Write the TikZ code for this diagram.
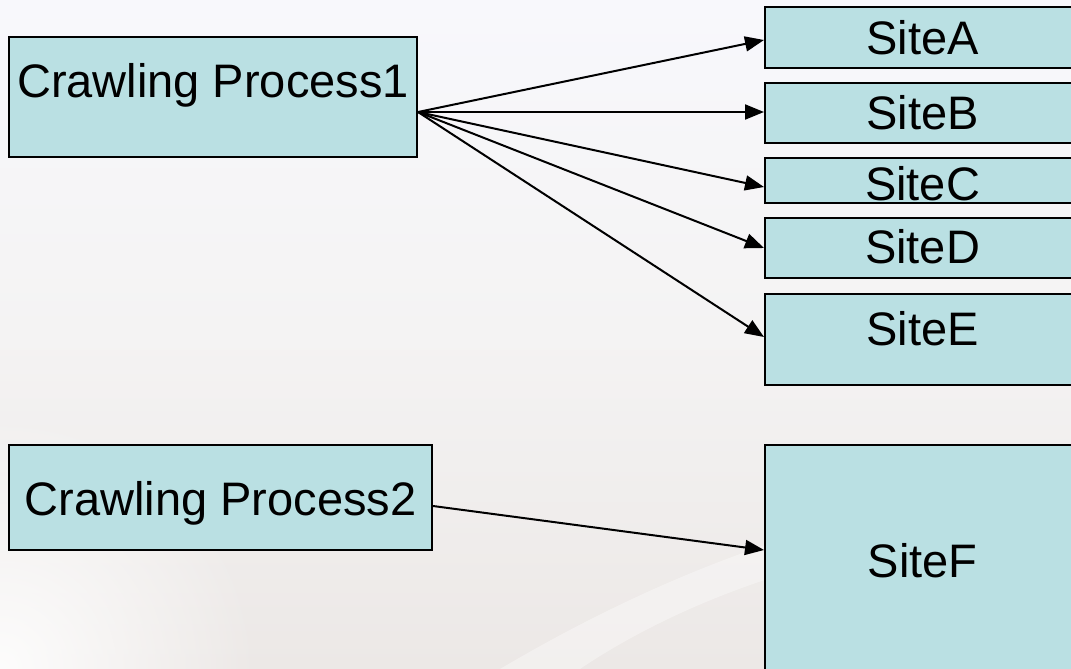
\documentclass[tikz,border=0pt]{standalone}
\usepackage{fontspec}
\setmainfont{Liberation Sans}
\usetikzlibrary{arrows.meta,fadings}
\definecolor{boxfill}{RGB}{186,224,227}
\definecolor{bgtop}{RGB}{248,248,252}
\definecolor{bgmid}{RGB}{244,243,243}
\definecolor{bgbot}{RGB}{236,232,230}
\tikzfading[name=softround, inner color=transparent!0, outer color=transparent!100]
\tikzset{
  box/.style={draw=black, line width=2pt, fill=boxfill, inner sep=0pt,
    text height=0pt, text depth=0pt, font=\fontsize{47pt}{50pt}\selectfont},
  link/.style={line width=2pt, -{Triangle[length=19pt,width=15pt]}},
}
\begin{document}
\begin{tikzpicture}[x=1pt,y=-1pt]
\useasboundingbox (0,0) rectangle (1071,669);
\clip (0,0) rectangle (1071,669);
\shade[top color=bgtop, bottom color=bgbot, middle color=bgmid] (0,0) rectangle (1071,669);
\fill[white, opacity=0.9, path fading=softround] (-260,409) rectangle (260,929);
\fill[white, opacity=0.35] (500,669) .. controls (600,610) and (690,570) .. (780,540)
  -- (780,575) .. controls (700,600) and (630,635) .. (580,669) -- cycle;
% nodes
\node[box, minimum width=408pt, minimum height=120pt] (cp1) at (213,97) {Crawling Process1};
\node[box, minimum width=423pt, minimum height=105pt] (cp2) at (220.5,497.5) {\raisebox{-17.5pt}{Crawling Process2}};
\node[box, minimum width=315pt, minimum height=61pt] (sa) at (922.5,37.5) {\raisebox{-17.5pt}{SiteA}};
\node[box, minimum width=315pt, minimum height=60pt] (sb) at (922.5,113) {\raisebox{-17pt}{SiteB}};
\node[box, minimum width=315pt, minimum height=45pt] (sc) at (922.5,180.5) {\raisebox{-19.5pt}{SiteC}};
\node[box, minimum width=315pt, minimum height=60pt] (sd) at (922.5,248) {\raisebox{-15.5pt}{SiteD}};
\node[box, minimum width=315pt, minimum height=91pt] (se) at (922.5,339) {\raisebox{-6.5pt}{SiteE}};
\node[box, minimum width=315pt, minimum height=232pt] (sf) at (922.5,561) {\raisebox{-16.5pt}{SiteF}};
% connector ends
\coordinate (o1) at ([yshift=-15pt]cp1.east);
\coordinate (o2) at ([yshift=-8.5pt]cp2.east);
\draw[link] (o1) -- ([yshift=-2.5pt]sa.west);
\draw[link] (o1) -- ([yshift=1pt]sb.west);
\draw[link] (o1) -- ([yshift=-6.5pt]sc.west);
\draw[link] (o1) -- (sd.west);
\draw[link] (o1) -- ([yshift=2pt]se.west);
\draw[link] (o2) -- ([yshift=11pt]sf.west);
\end{tikzpicture}
\end{document}
